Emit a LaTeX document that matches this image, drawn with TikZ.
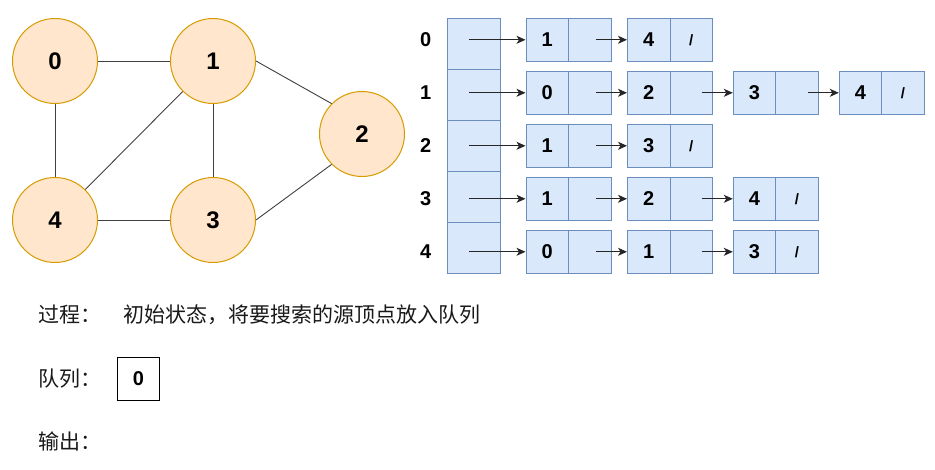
\documentclass[tikz,border=0pt]{standalone}
\usepackage{fontspec}
\setmainfont{Liberation Sans}
\newfontfamily\cjk{Noto Sans CJK SC}
\usetikzlibrary{arrows.meta}
\definecolor{vfill}{HTML}{FFE6CC}
\definecolor{vline}{HTML}{D79B00}
\definecolor{lfill}{HTML}{DAE8FC}
\definecolor{lline}{HTML}{6C8EBF}
\begin{document}
\begin{tikzpicture}[x=1pt,y=-1pt,
 vertex/.style={circle, draw=vline, fill=vfill, line width=1pt, minimum size=85pt, inner sep=0pt, font=\fontsize{24}{24}\selectfont\bfseries},
 edge/.style={draw=black!75, line width=0.9pt},
 headcell/.style={rectangle, draw=lline, fill=lfill, line width=1pt, minimum width=53pt, minimum height=51pt, inner sep=0pt},
 cell/.style={rectangle, draw=lline, fill=lfill, line width=1pt, minimum width=42.5pt, minimum height=43pt, inner sep=0pt, font=\fontsize{20}{20}\selectfont\bfseries},
 nil/.style={cell, font=\fontsize{15}{15}\selectfont\bfseries, text depth=-1pt},
 idx/.style={font=\fontsize{20}{20}\selectfont\bfseries, inner sep=0pt},
 arr/.style={draw=black!85, line width=0.9pt, -{Stealth[length=9pt,width=8pt,inset=2.5pt]}},
 cn/.style={font=\cjk\fontsize{21}{21}\selectfont, anchor=west, inner sep=0pt, text=black!90},
 qbox/.style={rectangle, draw=black, line width=1pt, minimum width=42.5pt, minimum height=42.5pt, inner sep=0pt, font=\fontsize{20}{20}\selectfont\bfseries},
]
\useasboundingbox (0,0) rectangle (935,470);

% graph
\node[vertex] (v0) at (55,61) {0};
\node[vertex] (v1) at (213,61) {1};
\node[vertex] (v2) at (362,134) {2};
\node[vertex] (v3) at (213,220) {3};
\node[vertex] (v4) at (55,220) {4};
\draw[edge] (v0) -- (v1);
\draw[edge] (v0) -- (v4);
\draw[edge] (v4) -- (v3);
\draw[edge] (v1) -- (v3);
\draw[edge] (v4) -- (v1);
\draw[edge] (v1.east) -- (v2.135);
\draw[edge] (v2.225) -- (v3.east);

% head array and indices
\foreach \i in {0,...,4}{
  \node[headcell] (h\i) at (474.2,{43.8+51*\i}) {};
  \node[idx] (l\i) at (425.7,{39.8+53*\i}) {\i};
  \coordinate (s\i) at (469,{39.8+53*\i});
}

% row 0: 1 -> 4 /
\node[cell] (a00) at (547.25,39.8) {1}; \node[cell] (p00) at (589.75,39.8) {};
\node[cell] (a01) at (648.75,39.8) {4}; \node[nil] (p01) at (691.25,39.8) {/};
\coordinate (t00) at (596,39.8);
\draw[arr] (s0) -- (a00.west);
\draw[arr] (t00) -- (a01.west);

% row 1: 0 -> 2 -> 3 -> 4 /
\node[cell] (a10) at (547.25,92.8) {0}; \node[cell] (p10) at (589.75,92.8) {};
\node[cell] (a11) at (648.75,92.8) {2}; \node[cell] (p11) at (691.25,92.8) {};
\node[cell] (a12) at (754.55,92.8) {3}; \node[cell] (p12) at (797.05,92.8) {};
\node[cell] (a13) at (860.55,92.8) {4}; \node[nil] (p13) at (903.05,92.8) {/};
\coordinate (t10) at (596,92.8);
\coordinate (t11) at (701.7,92.8);
\coordinate (t12) at (807.7,92.8);
\draw[arr] (s1) -- (a10.west);
\draw[arr] (t10) -- (a11.west);
\draw[arr] (t11) -- (a12.west);
\draw[arr] (t12) -- (a13.west);

% row 2: 1 -> 3 /
\node[cell] (a20) at (547.25,145.8) {1}; \node[cell] (p20) at (589.75,145.8) {};
\node[cell] (a21) at (648.75,145.8) {3}; \node[nil] (p21) at (691.25,145.8) {/};
\coordinate (t20) at (596,145.8);
\draw[arr] (s2) -- (a20.west);
\draw[arr] (t20) -- (a21.west);

% row 3: 1 -> 2 -> 4 /
\node[cell] (a30) at (547.25,198.8) {1}; \node[cell] (p30) at (589.75,198.8) {};
\node[cell] (a31) at (648.75,198.8) {2}; \node[cell] (p31) at (691.25,198.8) {};
\node[cell] (a32) at (754.55,198.8) {4}; \node[nil] (p32) at (797.05,198.8) {/};
\coordinate (t30) at (596,198.8);
\coordinate (t31) at (701.7,198.8);
\draw[arr] (s3) -- (a30.west);
\draw[arr] (t30) -- (a31.west);
\draw[arr] (t31) -- (a32.west);

% row 4: 0 -> 1 -> 3 /
\node[cell] (a40) at (547.25,251.8) {0}; \node[cell] (p40) at (589.75,251.8) {};
\node[cell] (a41) at (648.75,251.8) {1}; \node[cell] (p41) at (691.25,251.8) {};
\node[cell] (a42) at (754.55,251.8) {3}; \node[nil] (p42) at (797.05,251.8) {/};
\coordinate (t40) at (596,251.8);
\coordinate (t41) at (701.7,251.8);
\draw[arr] (s4) -- (a40.west);
\draw[arr] (t40) -- (a41.west);
\draw[arr] (t41) -- (a42.west);

% bottom texts
\node[cn] (proc) at (38.5,315) {过程：};
\node[cn] (desc) at (123.5,315) {初始状态，将要搜索的源顶点放入队列};
\node[cn] (qlabel) at (38.5,378.5) {队列：};
\node[qbox] (q0) at (138.4,378.8) {0};
\node[cn] (out) at (38.5,441.7) {输出：};
\end{tikzpicture}
\end{document}
